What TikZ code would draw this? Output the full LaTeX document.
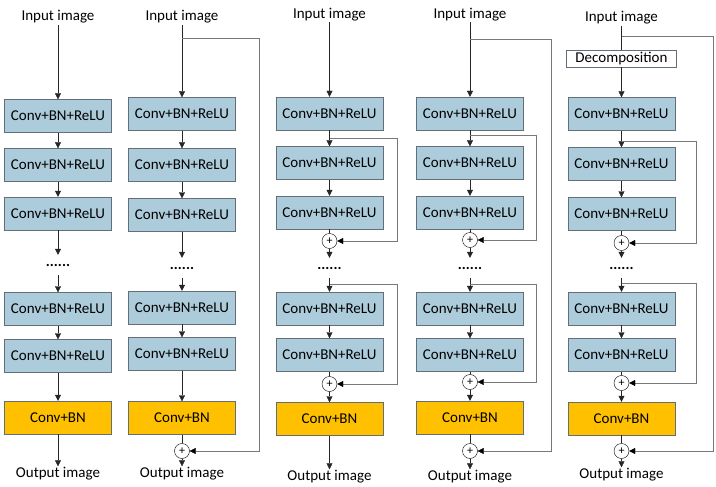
\documentclass[tikz,border=0pt]{standalone}
\usepackage{fontspec}
\setmainfont{Carlito}
\usetikzlibrary{arrows.meta}
\definecolor{convblue}{RGB}{173,204,219}
\definecolor{bnorange}{RGB}{255,192,0}
\definecolor{boxline}{RGB}{100,110,120}
\definecolor{skipgray}{RGB}{120,120,120}

\begin{document}
\begin{tikzpicture}[x=1pt,y=-1pt,font=\fontsize{15}{18}\selectfont]
  \tikzset{
    layer/.style={draw=boxline, fill=convblue, minimum width=107pt, minimum height=33pt, inner sep=0pt},
    outlayer/.style={layer, fill=bnorange},
    decomp/.style={layer, fill=white, minimum width=110pt, minimum height=17pt},
    adder/.style={draw, circle, minimum size=15pt, inner sep=0pt, font=\fontsize{12}{12}\selectfont},
    io/.style={inner sep=1pt},
    dots/.style={minimum height=20pt, inner sep=0pt, font=\fontsize{15}{18}\bfseries},
    flow/.style={draw=black!85, -{Triangle[length=6pt,width=6pt]}},
    plain/.style={draw=black!85},
    skip/.style={draw=skipgray, -{Triangle[length=6pt,width=6pt,color=black]}}
  }
  \useasboundingbox (0,0) rectangle (716,487);
  % plain network
  \begin{scope}[xshift=58pt]
    \node[io] (a0) at (0,17) {Input image};
    \foreach \n/\y in {1/116,2/165,3/213.5,4/309,5/356}
      \node[layer] (a\n) at (0,\y) {Conv+BN+ReLU};
    \node[dots] (ad) at (0,265) {......};
    \node[outlayer] (a6) at (0,417.5) {Conv+BN};
    \node[io] (a7) at (0,474) {Output image};
    \foreach \s/\t in {a0/a1,a1/a2,a2/a3,a3/ad,ad/a4,a4/a5,a5/a6,a6/a7}
      \draw[flow] (\s) -- (\t);
  \end{scope}
  % global skip
  \begin{scope}[xshift=182pt]
    \node[io] (b0) at (0,17) {Input image};
    \foreach \n/\y in {1/114,2/165,3/215,4/307.5,5/354}
      \node[layer] (b\n) at (0,\y) {Conv+BN+ReLU};
    \node[dots] (bd) at (0,268) {......};
    \node[outlayer] (b6) at (0,418) {Conv+BN};
    \node[adder] (bp) at (0,451) {+};
    \node[io] (b7) at (0,474) {Output image};
    \coordinate (bs) at (0,38);
    \coordinate (br) at (77,38);
    \foreach \s/\t in {b0/b1,b1/b2,b2/b3,b3/bd,bd/b4,b4/b5,b5/b6,bp/b7}
      \draw[flow] (\s) -- (\t);
    \draw[plain] (b6) -- (bp);
    \draw[skip] (bs) -- (br) |- (bp);
  \end{scope}
  % local skips
  \begin{scope}[xshift=329.5pt]
    \node[io] (c0) at (0,14.5) {Input image};
    \foreach \n/\y in {1/113.5,2/163,3/212.5,4/308.5,5/355}
      \node[layer] (c\n) at (0,\y) {Conv+BN+ReLU};
    \node[adder] (cp1) at (0,241) {+};
    \node[dots] (cd) at (0,268) {......};
    \node[adder] (cp2) at (0,384) {+};
    \node[outlayer] (c6) at (0,419) {Conv+BN};
    \node[io] (c7) at (0,477) {Output image};
    \coordinate (cs1) at (0,138);
    \coordinate (cr1) at (68,138);
    \coordinate (cs2) at (0,284);
    \coordinate (cr2) at (68,284);
    \foreach \s/\t in {c0/c1,c1/c2,c2/c3,cp1/cd,cd/c4,c4/c5,cp2/c6,c6/c7}
      \draw[flow] (\s) -- (\t);
    \draw[plain] (c3) -- (cp1);
    \draw[plain] (c5) -- (cp2);
    \draw[skip] (cs1) -- (cr1) |- (cp1);
    \draw[skip] (cs2) -- (cr2) |- (cp2);
  \end{scope}
  % local and global skips
  \begin{scope}[xshift=470pt]
    \node[io] (d0) at (0,14.5) {Input image};
    \foreach \n/\y in {1/113.5,2/163,3/212.5,4/308.5,5/355}
      \node[layer] (d\n) at (0,\y) {Conv+BN+ReLU};
    \node[adder] (dp1) at (0,240) {+};
    \node[dots] (dd) at (0,268) {......};
    \node[adder] (dp2) at (0,382) {+};
    \node[outlayer] (d6) at (0,417.5) {Conv+BN};
    \node[adder] (dp3) at (0,451) {+};
    \node[io] (d7) at (0,477) {Output image};
    \coordinate (ds0) at (0,39);
    \coordinate (dr0) at (81,39);
    \coordinate (ds1) at (0,135);
    \coordinate (dr1) at (66,135);
    \coordinate (ds2) at (0,284);
    \coordinate (dr2) at (66,284);
    \foreach \s/\t in {d0/d1,d1/d2,d2/d3,dp1/dd,dd/d4,d4/d5,dp2/d6,dp3/d7}
      \draw[flow] (\s) -- (\t);
    \draw[plain] (d3) -- (dp1);
    \draw[plain] (d5) -- (dp2);
    \draw[plain] (d6) -- (dp3);
    \draw[skip] (ds0) -- (dr0) |- (dp3);
    \draw[skip] (ds1) -- (dr1) |- (dp1);
    \draw[skip] (ds2) -- (dr2) |- (dp2);
  \end{scope}
  % with decomposition
  \begin{scope}[xshift=621.5pt]
    \node[io] (e0) at (0,18) {Input image};
    \node[decomp] (edec) at (0,58.5) {Decomposition};
    \foreach \n/\y in {1/114,2/164,3/214,4/308.5,5/355}
      \node[layer] (e\n) at (0,\y) {Conv+BN+ReLU};
    \node[adder] (ep1) at (0,243) {+};
    \node[dots] (ed) at (0,268) {......};
    \node[adder] (ep2) at (0,383) {+};
    \node[outlayer] (e6) at (0,418.5) {Conv+BN};
    \node[adder] (ep3) at (0,451) {+};
    \node[io] (e7) at (0,475) {Output image};
    \coordinate (es0) at (0,36);
    \coordinate (er0) at (92,36);
    \coordinate (es1) at (0,141);
    \coordinate (er1) at (75,141);
    \coordinate (es2) at (0,283);
    \coordinate (er2) at (75,283);
    \foreach \s/\t in {edec/e1,e1/e2,e2/e3,ep1/ed,ed/e4,e4/e5,ep2/e6,ep3/e7}
      \draw[flow] (\s) -- (\t);
    \draw[plain] (e0) -- (edec);
    \draw[plain] (e3) -- (ep1);
    \draw[plain] (e5) -- (ep2);
    \draw[plain] (e6) -- (ep3);
    \draw[skip] (es0) -- (er0) |- (ep3);
    \draw[skip] (es1) -- (er1) |- (ep1);
    \draw[skip] (es2) -- (er2) |- (ep2);
  \end{scope}
\end{tikzpicture}
\end{document}
